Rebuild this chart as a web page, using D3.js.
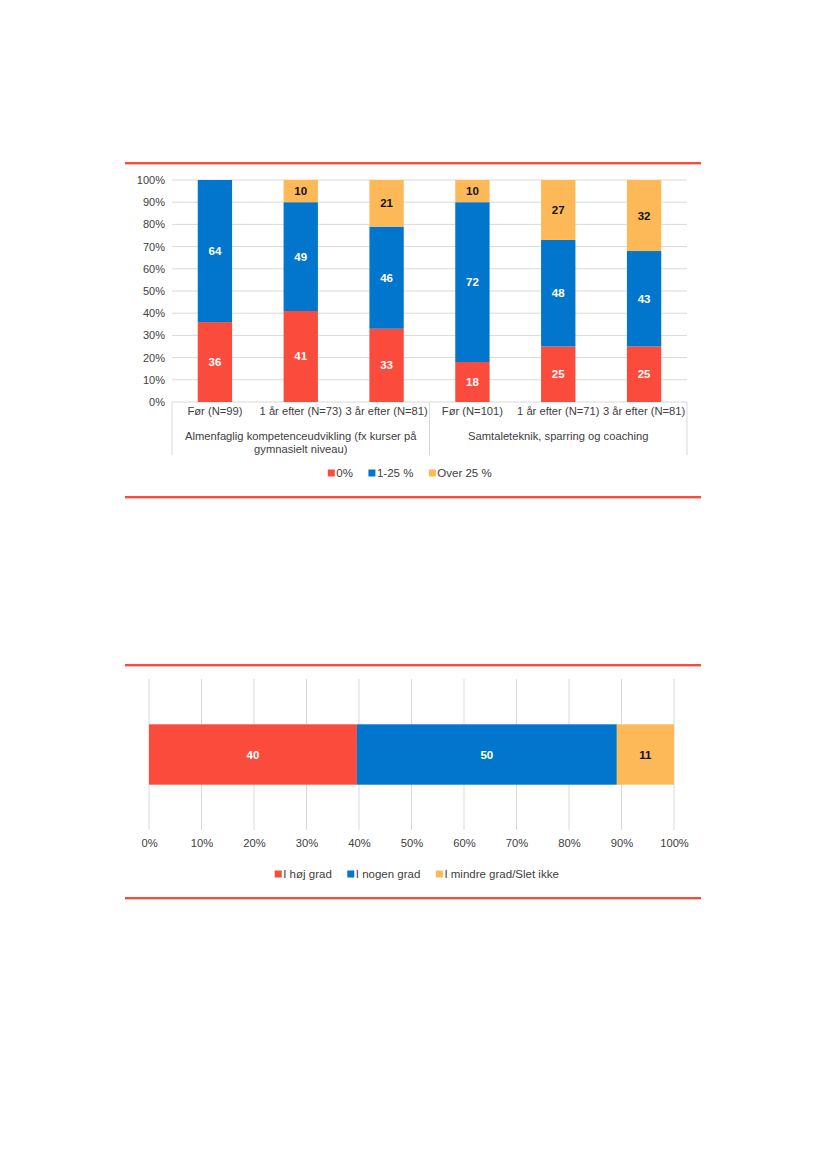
<!DOCTYPE html>
<html>
<head>
<meta charset="utf-8">
<script src="https://cdn.jsdelivr.net/npm/d3@7"></script>
<style>
  body { margin: 0; background: #fff; }
  text { font-family: "Liberation Sans", Arial, sans-serif; }
</style>
</head>
<body>
<script>
// chart 1 data
let periods = ['Før (N=99)', '1 år efter (N=73)', '3 år efter (N=81)',
  'Før (N=101)', '1 år efter (N=71)', '3 år efter (N=81)']
let groups = ['Almenfaglig kompetenceudvikling (fx kurser på gymnasielt niveau)',
  'Samtaleteknik, sparring og coaching']
let series1 = ['0%', '1-25 %', 'Over 25 %']
let zeroPct = [36, 41, 33, 18, 25, 25]
let lowPct = [64, 49, 46, 72, 48, 43]
let overPct = [0, 10, 21, 10, 27, 32]
let yTicks = [0, 0.1, 0.2, 0.3, 0.4, 0.5, 0.6, 0.7, 0.8, 0.9, 1]

// chart 2 data
let series2 = ['I høj grad', 'I nogen grad', 'I mindre grad/Slet ikke']
let values2 = [40, 50, 11]
let xTicks = [0, 0.1, 0.2, 0.3, 0.4, 0.5, 0.6, 0.7, 0.8, 0.9, 1]

let colors = ['#fa4b3c', '#0176cc', '#fdb957']
let labelColors = ['#ffffff', '#ffffff', '#111111']
let grid = '#d9d9d9'
let textCol = '#404040'

let svg = d3.select('body')
  .append('svg')
  .attr('width', 827)
  .attr('height', 1169)

// red frame lines
function frameLine(y) {
  svg.append('rect').attr('x', 125).attr('y', y - 1).attr('width', 576).attr('height', 2.4)
    .attr('fill', '#f24e3d')
}
frameLine(163)
frameLine(497)
frameLine(665)
frameLine(898)

// ---------- chart 1: stacked columns ----------
let m1 = { left: 172, right: 687, top: 180, bottom: 402 }

let x1 = d3.scaleBand()
  .domain(d3.range(periods.length))
  .range([m1.left, m1.right])
  .paddingInner(0.6)
  .paddingOuter(0.3)

let y1 = d3.scaleLinear()
  .domain([0, 1])
  .range([m1.bottom, m1.top])

// gridlines
svg.append('g')
  .selectAll('line')
  .data(yTicks)
  .enter()
  .append('line')
    .attr('x1', m1.left)
    .attr('x2', m1.right)
    .attr('y1', function(d) { return y1(d) })
    .attr('y2', function(d) { return y1(d) })
    .attr('stroke', grid)
    .attr('stroke-width', 1)

let yAxis = d3.axisLeft(y1)
  .tickValues(yTicks)
  .tickFormat(d3.format('.0%'))
  .tickSize(0)
  .tickPadding(7)

let yg = svg.append('g')
  .attr('transform', 'translate(' + m1.left + ',0)')
  .call(yAxis)
yg.select('.domain').remove()
yg.selectAll('text').attr('font-size', 11).attr('fill', textCol)

// stack the data
let rows1 = periods.map(function(p, i) {
  let total = zeroPct[i] + lowPct[i] + overPct[i]
  return { i: i, s0: zeroPct[i] / total, s1: lowPct[i] / total, s2: overPct[i] / total,
    v: [zeroPct[i], lowPct[i], overPct[i]] }
})
let stack1 = d3.stack().keys(['s0', 's1', 's2'])(rows1)

stack1.forEach(function(layer, k) {
  let g = svg.append('g')
  g.selectAll('rect')
    .data(layer)
    .enter()
    .append('rect')
      .attr('x', function(d) { return x1(d.data.i) })
      .attr('width', x1.bandwidth())
      .attr('y', function(d) { return y1(d[1]) })
      .attr('height', function(d) { return y1(d[0]) - y1(d[1]) })
      .attr('fill', colors[k])
  g.selectAll('text')
    .data(layer.filter(function(d) { return d.data.v[k] > 0 }))
    .enter()
    .append('text')
      .attr('x', function(d) { return x1(d.data.i) + x1.bandwidth() / 2 })
      .attr('y', function(d) { return (y1(d[0]) + y1(d[1])) / 2 + 4 })
      .attr('text-anchor', 'middle')
      .attr('font-size', 11.5)
      .attr('font-weight', 'bold')
      .attr('fill', labelColors[k])
      .text(function(d) { return d.data.v[k] })
})

// category axis (two levels)
let step = x1.step()
let groupEdges = [m1.left, m1.left + 3 * step, m1.right]
svg.append('g')
  .selectAll('line')
  .data(groupEdges)
  .enter()
  .append('line')
    .attr('x1', function(d) { return d })
    .attr('x2', function(d) { return d })
    .attr('y1', m1.bottom)
    .attr('y2', 455)
    .attr('stroke', grid)

svg.append('g')
  .selectAll('text')
  .data(periods)
  .enter()
  .append('text')
    .attr('x', function(d, i) { return x1(i) + x1.bandwidth() / 2 })
    .attr('y', 415)
    .attr('text-anchor', 'middle')
    .attr('font-size', 11.2)
    .attr('fill', textCol)
    .text(function(d) { return d })

// wrap group labels
function wrap(textSel, width) {
  textSel.each(function() {
    let t = d3.select(this)
    let words = t.text().split(' ')
    let x = t.attr('x')
    t.text(null)
    let line = []
    let tspan = t.append('tspan').attr('x', x).attr('dy', 0)
    words.forEach(function(w) {
      line.push(w)
      tspan.text(line.join(' '))
      if (tspan.node().getComputedTextLength() > width && line.length > 1) {
        line.pop()
        tspan.text(line.join(' '))
        line = [w]
        tspan = t.append('tspan').attr('x', x).attr('dy', 13).text(w)
      }
    })
  })
}

svg.append('g')
  .selectAll('text')
  .data(groups)
  .enter()
  .append('text')
    .attr('x', function(d, i) { return (groupEdges[i] + groupEdges[i + 1]) / 2 })
    .attr('y', 440)
    .attr('text-anchor', 'middle')
    .attr('font-size', 11.2)
    .attr('fill', textCol)
    .text(function(d) { return d })
    .call(wrap, 248)

// legend helper
function legend(items, cx, y) {
  let g = svg.append('g')
  let fs = 11.5
  let widths = []
  let tmp = g.selectAll('text.tmp').data(items).enter().append('text')
    .attr('font-size', fs).text(function(d) { return d })
  tmp.each(function() { widths.push(this.getComputedTextLength()) })
  tmp.remove()
  let gap = 15
  let total = d3.sum(widths) + items.length * 9 + (items.length - 1) * gap
  let x = cx - total / 2
  items.forEach(function(d, k) {
    g.append('rect').attr('x', x).attr('y', y - 7.5).attr('width', 7).attr('height', 7)
      .attr('fill', colors[k])
    g.append('text').attr('x', x + 8.5).attr('y', y).attr('font-size', fs)
      .attr('fill', textCol).text(d)
    x += 9 + widths[k] + gap
  })
}
legend(series1, 410, 477)

// ---------- chart 2: 100% stacked bar ----------
let m2 = { left: 149, right: 674, top: 679, bottom: 830 }

let x2 = d3.scaleLinear()
  .domain([0, 1])
  .range([m2.left, m2.right])

let y2 = d3.scaleBand()
  .domain(['all'])
  .range([m2.top, m2.bottom])
  .paddingInner(0.6)
  .paddingOuter(0.3)

svg.append('g')
  .selectAll('line')
  .data(xTicks)
  .enter()
  .append('line')
    .attr('x1', function(d) { return x2(d) })
    .attr('x2', function(d) { return x2(d) })
    .attr('y1', m2.top)
    .attr('y2', m2.bottom)
    .attr('stroke', grid)

let xAxis = d3.axisBottom(x2)
  .tickValues(xTicks)
  .tickFormat(d3.format('.0%'))
  .tickSize(0)
  .tickPadding(9)

let xg = svg.append('g')
  .attr('transform', 'translate(0,' + m2.bottom + ')')
  .call(xAxis)
xg.select('.domain').remove()
xg.selectAll('text').attr('font-size', 11.2).attr('fill', textCol)

let total2 = d3.sum(values2)
let row2 = { cat: 'all' }
series2.forEach(function(s, k) { row2[s] = values2[k] / total2 })
let stack2 = d3.stack().keys(series2)([row2])

stack2.forEach(function(layer, k) {
  let d = layer[0]
  svg.append('rect')
    .attr('x', x2(d[0]))
    .attr('width', x2(d[1]) - x2(d[0]))
    .attr('y', y2('all'))
    .attr('height', y2.bandwidth())
    .attr('fill', colors[k])
  svg.append('text')
    .attr('x', (x2(d[0]) + x2(d[1])) / 2)
    .attr('y', y2('all') + y2.bandwidth() / 2 + 4)
    .attr('text-anchor', 'middle')
    .attr('font-size', 11.5)
    .attr('font-weight', 'bold')
    .attr('fill', labelColors[k])
    .text(values2[k])
})

legend(series2, 417, 878)
</script>
</body>
</html>
